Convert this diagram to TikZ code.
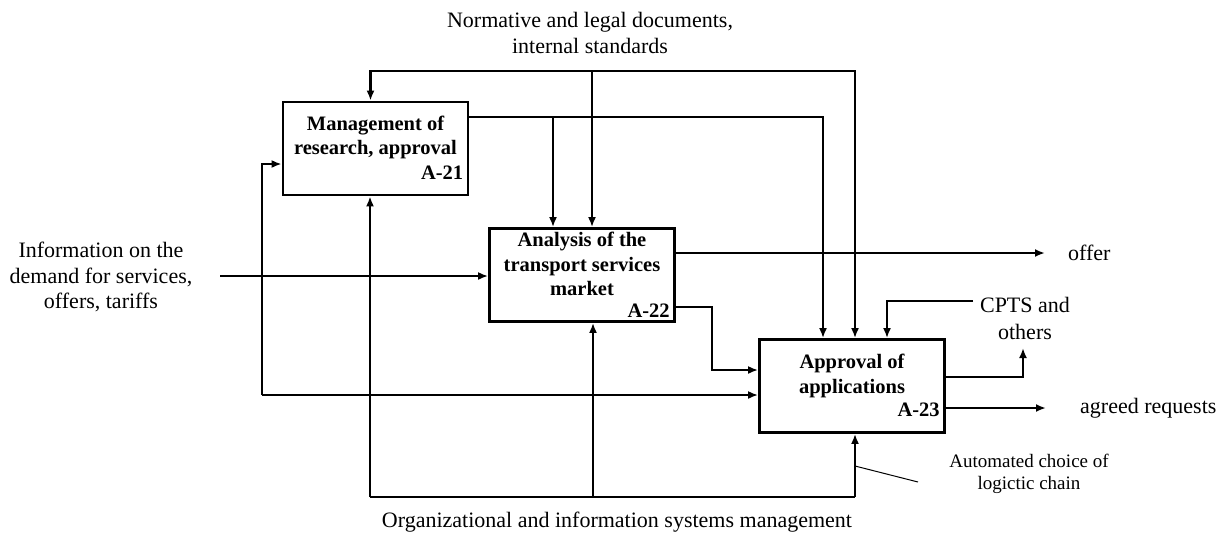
\documentclass[tikz,border=0pt]{standalone}
\usepackage{fontspec}
\setmainfont{Liberation Serif}
\usetikzlibrary{arrows.meta,calc}
\begin{document}
\begin{tikzpicture}[x=1pt,y=-1pt,
  line/.style={line width=2.4pt},
  arr/.style={line width=2.4pt,-{Latex[length=10pt,width=8pt]}},
  boxnode/.style={draw,line width=2.8pt,minimum width=185pt,minimum height=93pt,inner sep=0pt},
  title/.style={font=\fontsize{20.5}{24.5}\selectfont\bfseries,align=center,anchor=north,inner sep=0pt},
  code/.style={font=\fontsize{20.5}{24.5}\selectfont\bfseries,anchor=south east,inner sep=0pt},
  lbl/.style={font=\fontsize{22}{25.5}\selectfont,align=center,inner sep=0pt},
  small/.style={font=\fontsize{19}{22}\selectfont,align=center,inner sep=0pt}]
\useasboundingbox (0,0) rectangle (1226,536);

% boxes
\node[boxnode] (a21) at (375.5,148.5) {};
\node[boxnode] (a22) at (582,275) {};
\node[boxnode] (a23) at (852,386) {};

\node[title] (t21) at ($(a21.north)+(0,15)$) {Management of\\research, approval};
\node[code] (c21) at ($(a21.south east)+(-6,-17)$) {A-21};
\node[title] (t22) at ($(a22.north)+(0,5)$) {Analysis of the\\transport services\\market};
\node[code] (c22) at ($(a22.south east)+(-6,-5)$) {A-22};
\node[title] (t23) at ($(a23.north)+(0,16)$) {Approval of\\applications};
\node[code] (c23) at ($(a23.south east)+(-6,-17)$) {A-23};

% texts
\node[lbl,font=\fontsize{22}{26.5}\selectfont] (norm) at (590,33) {Normative and legal documents,\\internal standards};
\node[lbl] (info) at (101,277) {Information on the\\demand for services,\\offers, tariffs};
\node[lbl,anchor=west] (offer) at (1068,253) {offer};
\node[lbl,font=\fontsize{22}{27}\selectfont] (cpts) at (1025,318.5) {CPTS and\\others};
\node[lbl,anchor=west] (agreed) at (1080,408) {agreed requests};
\node[small] (auto) at (1029,474) {Automated choice of\\logictic chain};
\node[lbl] (org) at (617,522) {Organizational and information systems management};

% coordinates
\coordinate (ntop) at (592,71);
\coordinate (inL) at (220,276);
\coordinate (fb) at (262,395);
\coordinate (bl) at (370,497);
\coordinate (bm) at (593,497);
\coordinate (br) at (855,497);
\coordinate (cptsL) at (973,301);
\coordinate (slashA) at (855,466);
\coordinate (slashB) at (918,482);

% controls from top
\draw[arr] (ntop) -| ([xshift=-5pt]a21.north);
\draw[arr] (ntop) -- (ntop |- a22.north);
\draw[arr] (ntop) -| ([xshift=3pt]a23.north);

% A-21 outputs
\draw[arr] (a21.east |- 0,117) -| ([xshift=-29pt]a23.north);
\draw[arr] (553,117) -- (553,117 |- a22.north);

% input
\draw[arr] (inL) -- (inL -| a22.west);

% feedback left
\draw[arr] (fb) |- (a21.west |- 0,164);
\draw[arr] (fb) -- (fb -| a23.west);

% A-22 outputs
\draw[arr] (a22.east |- 0,253) -- (1045,253);
\draw[arr] (a22.east |- 0,307) -| (712,370) -- (a23.west |- 0,370);

% CPTS
\draw[arr] (cptsL) -| ([xshift=35pt]a23.north);
\draw[arr] (a23.east |- 0,377) -| (1023,348);

% agreed
\draw[arr] (a23.east |- 0,408) -- (1046,408);

% mechanisms bottom
\draw[line] (bl) -- (br);
\draw[arr] (bl) -- (bl |- a21.south);
\draw[arr] (bm) -- (bm |- a22.south);
\draw[arr] (br) -- (br |- a23.south);
\draw[line width=1pt] (slashA) -- (slashB);
\end{tikzpicture}
\end{document}
